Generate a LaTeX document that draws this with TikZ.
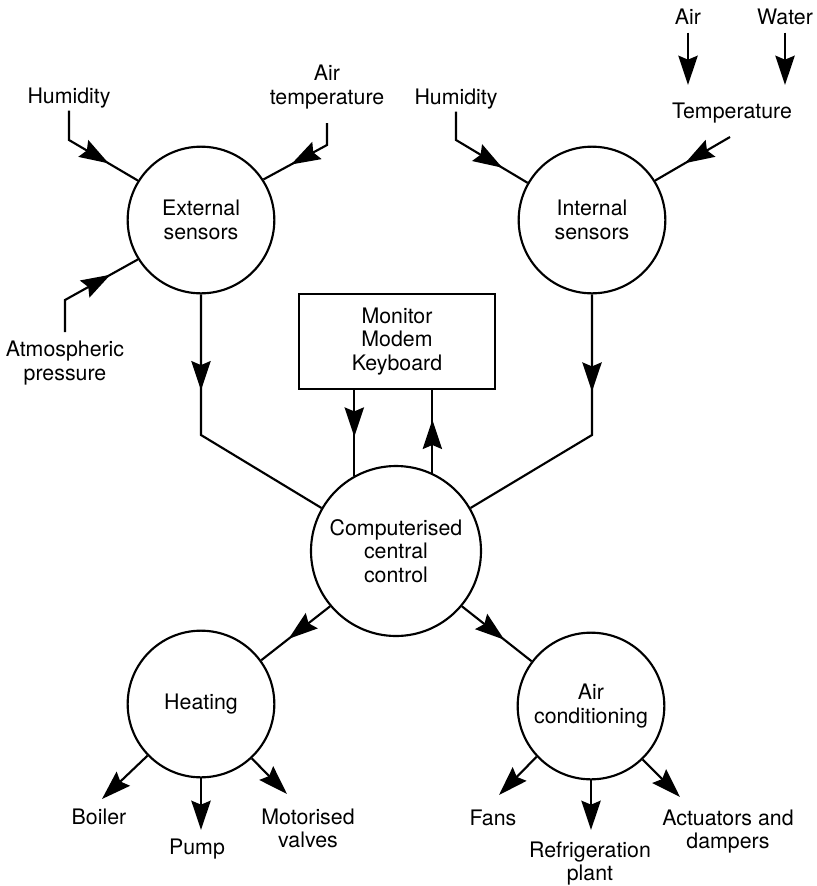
\documentclass[tikz,border=0pt]{standalone}
\usepackage{fontspec}
\setmainfont{TeX Gyre Heros}
\usetikzlibrary{arrows.meta,decorations.markings}
\begin{document}
\begin{tikzpicture}[x=0.75pt,y=-0.75pt,
  line width=1.6pt,
  every node/.style={font=\fontsize{16}{17.5}\selectfont, align=center, inner sep=1pt},
  bubble/.style={draw, circle, minimum size=110pt, inner sep=0pt},
  bigbubble/.style={draw, circle, minimum size=127.5pt, inner sep=0pt},
  panel/.style={draw, rectangle, minimum width=147pt, minimum height=71.25pt},
  tip/.style={-{Stealth[length=22pt,width=14.5pt,inset=3pt]}},
  midarrow/.style={postaction={decorate}, decoration={markings,
     mark=at position #1 with {\arrow{Stealth[length=22pt,width=14.5pt,inset=3pt]}}}}
]
\useasboundingbox (0,0) rectangle (817,886);

% main nodes
\node[bubble] (ext) at (201,220) {External\\sensors};
\node[bubble] (int) at (592,220) {Internal\\sensors};
\node[panel] (box) at (397,341.5) {Monitor\\Modem\\Keyboard};
\node[bigbubble] (cc) at (396,551) {Computerised\\central\\control};
\node[bubble] (heat) at (201,704) {Heating};
\node[bubble] (ac) at (591,706) {Air\\conditioning};

% labels
\node (hum1) at (69,98) {Humidity};
\node (airt) at (327,87) {Air\\temperature};
\node (atm) at (65,363) {Atmospheric\\pressure};
\node (hum2) at (456,99) {Humidity};
\node (temp) at (732,113) {Temperature};
\node (air) at (688,17) {Air};
\node (water) at (785,17) {Water};
\node (boiler) at (99,817) {Boiler};
\node (pump) at (197,849) {Pump};
\node (motor) at (308,828.5) {Motorised\\valves};
\node (fans) at (493,818) {Fans};
\node (refr) at (590,863.5) {Refrigeration\\plant};
\node (act) at (728,831.5) {Actuators and\\dampers};

% bend points and free ends
\coordinate (hum1b) at (68,140);
\coordinate (airtb) at (327,145);
\coordinate (atmb) at (65,300);
\coordinate (hum2b) at (454,140);
\coordinate (tempst) at (730,137);
\coordinate (airend) at (688,85);
\coordinate (waterend) at (785,85);
\coordinate (extb) at (202,435);
\coordinate (intb) at (591,435);
\coordinate (boilerend) at (102,799);
\coordinate (pumpend) at (201,830);
\coordinate (motorend) at (287,794);
\coordinate (fansend) at (499,795);
\coordinate (refrend) at (591,830);
\coordinate (actend) at (680,797);

% inputs to external sensors
\draw[midarrow=-25.4pt] (hum1.south) -- (hum1.south |- hum1b) -- (ext.148);
\draw[midarrow=-23.5pt] ([yshift=-9pt]airt.south) -- (airt.south |- airtb) -- (ext.33);
\draw[midarrow=-23.5pt] ([yshift=5pt]atm.north) -- (atm.north |- atmb) -- (ext.212);

% inputs to internal sensors
\draw[midarrow=-22pt] (hum2.south) -- (hum2.south |- hum2b) -- (int.150);
\draw[midarrow=-26pt] (tempst) -- (int.32);
\draw[tip] ([yshift=-4pt]air.south) -- (airend);
\draw[tip] ([yshift=-4pt]water.south) -- (waterend);

% sensors to central control
\draw[midarrow=72pt] (ext.south) -- (ext.south |- extb) -- (cc.150);
\draw[midarrow=73pt] (int.south) -- (int.south |- intb) -- (cc.30);

% panel <-> central control
\draw[midarrow=35pt] (cc.119.6 |- box.south) -- (cc.119.6);
\draw[midarrow=40pt] (cc.65.7) -- (cc.65.7 |- box.south);

% central control to subsystems
\draw[midarrow=-26pt] (cc.220) -- (heat.36);
\draw[midarrow=-26pt] (cc.320) -- (ac.143);

% outputs
\draw[tip] (heat.224) -- (boilerend);
\draw[tip] (heat.270) -- (pumpend);
\draw[tip] (heat.313) -- (motorend);
\draw[tip] (ac.223) -- (fansend);
\draw[tip] (ac.270) -- (refrend);
\draw[tip] (ac.314) -- (actend);
\end{tikzpicture}
\end{document}
